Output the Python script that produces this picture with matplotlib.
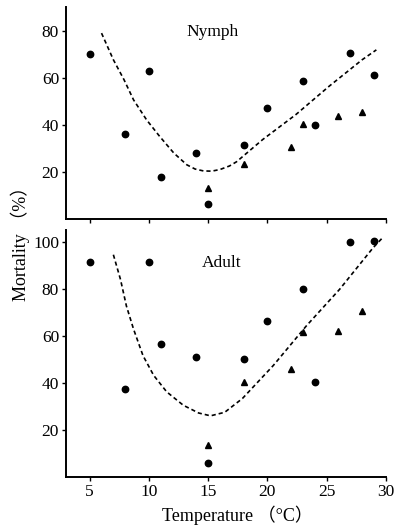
import matplotlib
matplotlib.use("Agg")
import matplotlib.pyplot as plt

# ---- data ----
nymph_circle_x = [5, 8, 10, 11, 14, 15, 18, 20, 23, 24, 27, 29]
nymph_circle_y = [70, 36, 63, 17.8, 28, 6.4, 31.4, 47.3, 58.4, 40, 70.5, 61]
nymph_tri_x = [15, 18, 22, 23, 26, 28]
nymph_tri_y = [13, 23.5, 30.6, 40.4, 43.6, 45.4]
nymph_curve_x = [6.0, 7.0, 7.9, 8.7, 9.8, 10.9, 12.1, 13.2, 13.9, 14.6, 15.3, 16.0, 16.8, 17.4, 19.6, 22.4, 25.2, 28.0, 29.2]
nymph_curve_y = [78.9, 67.6, 59.1, 50.6, 42.1, 35.1, 28.0, 23.0, 21.2, 20.4, 20.3, 21.0, 22.5, 24.3, 33.7, 44.3, 56.3, 67.6, 71.8]

adult_circle_x = [5, 8, 10, 11, 14, 15, 18, 20, 23, 24, 27, 29]
adult_circle_y = [91.2, 37.4, 91.6, 56.6, 51.2, 6, 50.2, 66.4, 80, 40.3, 100, 100.2]
adult_tri_x = [15, 18, 22, 23, 26, 28]
adult_tri_y = [13.8, 40.5, 45.8, 61.6, 62.2, 70.5]
adult_curve_x = [7.0, 7.6, 8.1, 8.7, 9.5, 10.4, 11.5, 12.9, 14.2, 15.2, 16.4, 17.9, 20.5, 23.3, 26.1, 28.9, 29.7]
adult_curve_y = [94.5, 84, 72.7, 62.9, 51.6, 43.2, 36.2, 30.5, 27.2, 26.0, 27.5, 33.4, 47.4, 64.3, 79.8, 97.3, 101.6]

x_ticks = [5, 10, 15, 20, 25, 30]
nymph_yticks = [20, 40, 60, 80]
adult_yticks = [20, 40, 60, 80, 100]

serif = ['Liberation Serif', 'Noto Sans CJK SC', 'DejaVu Serif']
plt.rcParams['font.family'] = serif

fig = plt.figure(figsize=(3.99, 5.26), dpi=100)
ax1 = fig.add_axes([0.1654, 0.5837, 0.967 - 0.1654, 0.9867 - 0.5837])
ax2 = fig.add_axes([0.1654, 0.0932, 0.967 - 0.1654, 0.5627 - 0.0932])

def style(ax, ylim, yticks, show_xlabels):
    ax.set_xlim(3, 30)
    ax.set_ylim(*ylim)
    ax.set_xticks(x_ticks)
    ax.set_yticks(yticks)
    for s in ['top', 'right']:
        ax.spines[s].set_visible(False)
    for s in ['left', 'bottom']:
        ax.spines[s].set_linewidth(1.4)
    ax.tick_params(direction='out', length=3, width=1.0, labelsize=12.5, pad=2)
    if not show_xlabels:
        ax.tick_params(axis='x', labelbottom=False)

ms = 4.6
ax1.plot(nymph_curve_x, nymph_curve_y, color='black', lw=1.2, ls=(0, (2.5, 1.8)))
ax1.plot(nymph_circle_x, nymph_circle_y, 'o', color='black', ms=ms, clip_on=False)
ax1.plot(nymph_tri_x, nymph_tri_y, '^', color='black', ms=ms, clip_on=False)
ax1.text(15.4, 79.5, 'Nymph', ha='center', va='center', fontsize=12.5)
style(ax1, (0, 90), nymph_yticks, False)

ax2.plot(adult_curve_x, adult_curve_y, color='black', lw=1.2, ls=(0, (2.5, 1.8)))
ax2.plot(adult_circle_x, adult_circle_y, 'o', color='black', ms=ms, clip_on=False)
ax2.plot(adult_tri_x, adult_tri_y, '^', color='black', ms=ms, clip_on=False)
ax2.text(16.1, 91, 'Adult', ha='center', va='center', fontsize=12.5)
style(ax2, (0, 105), adult_yticks, True)

ax2.set_xlabel('Temperature （°C）', fontsize=13)
ax2.xaxis.set_label_coords(0.5375, -0.115)
fig.text(0.05, 0.545, 'Mortality （%）', rotation=90, ha='center', va='center', fontsize=13)

fig.savefig('out.png', dpi=100)
